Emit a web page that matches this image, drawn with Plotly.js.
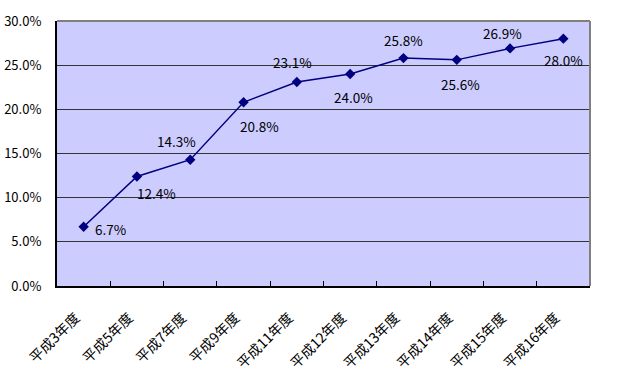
<!DOCTYPE html>
<html>
<head>
<meta charset="utf-8">
<script src="https://cdn.plot.ly/plotly-3.0.1.min.js"></script>
<style>html,body{margin:0;padding:0;background:#fff;}#chart{width:620px;height:379px;}</style>
</head>
<body>
<div id="chart"></div>
<script>
const categories = ["平成3年度","平成5年度","平成7年度","平成9年度","平成11年度","平成12年度","平成13年度","平成14年度","平成15年度","平成16年度"];
const values = [6.7, 12.4, 14.3, 20.8, 23.1, 24.0, 25.8, 25.6, 26.9, 28.0];
const yTickVals = [0,5,10,15,20,25,30];
const yTickText = yTickVals.map(v => v.toFixed(1) + "%");

// label offsets in pixels (style only)
const labelDx = [27, 20, -14, 16, -4, 3, 0, 4, -8, 0];
const labelDy = [2, 17, -19, 24, -20, 23, -18, 24, -15, 21];

const font = "'Noto Sans CJK JP', 'DejaVu Sans', sans-serif";

const annotations = values.map((v, i) => ({
  x: categories[i], y: v, xref: "x", yref: "y",
  text: v.toFixed(1) + "%",
  showarrow: false,
  xshift: labelDx[i], yshift: -labelDy[i],
  font: {family: font, size: 13.5, color: "#000"}
}));

Plotly.newPlot("chart", [{
  type: "scatter",
  mode: "lines+markers",
  x: categories,
  y: values,
  line: {color: "#000080", width: 1.5},
  marker: {symbol: "diamond", size: 8, color: "#000080"},
  cliponaxis: false,
  hoverinfo: "none"
}], {
  width: 620, height: 379,
  margin: {l: 57, r: 30, t: 21, b: 93},
  paper_bgcolor: "#ffffff",
  plot_bgcolor: "#ccccff",
  showlegend: false,
  font: {family: font, size: 13, color: "#000"},
  annotations: annotations,
  xaxis: {
    type: "category",
    tickangle: -45,
    ticks: "inside",
    ticklen: 5,
    tickcolor: "#000",
    tickson: "boundaries",
    showline: true,
    linecolor: "#000",
    linewidth: 2,
    showgrid: false,
    ticklabelstandoff: 16,
    ticklabelshift: -8,
    tickfont: {family: font, size: 14, color: "#000"},
    range: [-0.5, 9.5]
  },
  yaxis: {
    range: [0, 30],
    tickvals: yTickVals,
    ticktext: yTickText,
    showgrid: true,
    gridcolor: "#333333",
    gridwidth: 1,
    showline: true,
    linecolor: "#000",
    linewidth: 2,
    zeroline: false,
    ticks: "",
    ticklabelstandoff: 11,
    tickfont: {family: font, size: 13, color: "#000"}
  },
  shapes: [
    {type: "line", xref: "paper", yref: "paper", x0: 0, x1: 1, y0: 1, y1: 1, line: {color: "#808080", width: 2}},
    {type: "line", xref: "paper", yref: "paper", x0: 1, x1: 1, y0: 0, y1: 1, line: {color: "#808080", width: 2}}
  ]
}, {staticPlot: true});
</script>
</body>
</html>
